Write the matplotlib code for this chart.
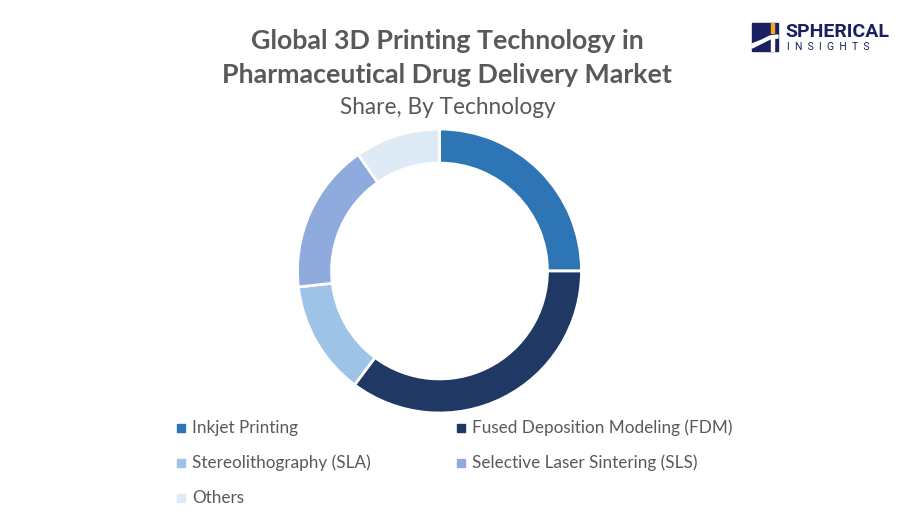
import matplotlib.pyplot as plt
from matplotlib.patches import Rectangle, Polygon

labels = ["Inkjet Printing", "Fused Deposition Modeling (FDM)",
          "Stereolithography (SLA)", "Selective Laser Sintering (SLS)", "Others"]
shares = [25.0, 35.2, 13.0, 17.1, 9.7]
colors = ["#2E75B6", "#1F3864", "#9DC3E6", "#8FAADC", "#DEEBF7"]

title = "Global 3D Printing Technology in\nPharmaceutical Drug Delivery Market"
subtitle = "Share, By Technology"

W, H = 900, 525
fig = plt.figure(figsize=(9, 5.25), dpi=100)

# donut
cx, cy, r = 439.5, 271, 142
ax = fig.add_axes([(cx - r) / W, 1 - (cy + r) / H, 2 * r / W, 2 * r / H])
wedges, _ = ax.pie(shares, colors=colors, startangle=90, counterclock=False,
                   radius=1, wedgeprops=dict(width=0.24, edgecolor="white", linewidth=2))
ax.set_xlim(-1, 1)
ax.set_ylim(-1, 1)
ax.set_aspect("equal")
ax.axis("off")

fig.text(447 / W, 1 - 58 / H, title, ha="center", va="center", fontsize=19.3,
         fontweight="bold", color="#595959", family="Lato", linespacing=1.52)
fig.text(448 / W, 1 - 107 / H, subtitle, ha="center", va="center", fontsize=16.3,
         color="#595959", family="Lato")

# overlay axes in pixel coordinates for legend and logo
lax = fig.add_axes([0, 0, 1, 1], zorder=5)
lax.set_xlim(0, W)
lax.set_ylim(H, 0)
lax.axis("off")

# legend, row-major like the reference
for i, (lab, col) in enumerate(zip(labels, colors)):
    x = 177 if i % 2 == 0 else 457
    y = 428 + 35 * (i // 2)
    lax.add_patch(Rectangle((x, y - 4), 8, 8, color=col))
    lax.text(x + 15, y, lab, fontsize=12.3, color="#595959", va="center",
             ha="left", family="Lato")

# logo
navy = "#1B2160"
lax.add_patch(Rectangle((752, 23), 26, 28, color=navy))
lax.add_patch(Polygon([(752, 44), (762, 40), (770, 36), (778, 35), (778, 38),
                       (770, 39), (762, 43), (752, 48)], color="white"))
lax.add_patch(Rectangle((771, 23), 3, 10, color="#F5A623"))
lax.add_patch(Rectangle((771, 36), 3, 15, color="white"))
lax.text(785, 32, "SPHERICAL", fontsize=14, fontweight="bold", color=navy,
         va="center", ha="left", family="Roboto", stretch="condensed")
lax.text(787, 47, "I  N  S  I  G  H  T  S", fontsize=7.5, color=navy, va="center",
         ha="left", family="Roboto")

fig.savefig("out.png", dpi=100, facecolor="white")
